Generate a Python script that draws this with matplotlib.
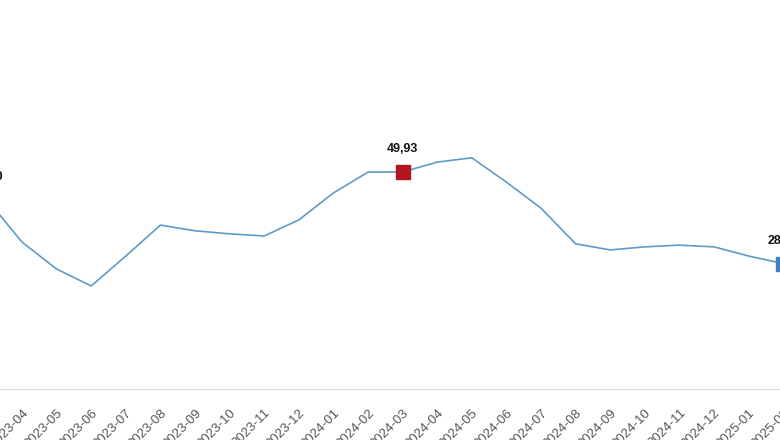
import matplotlib
matplotlib.use("Agg")
import matplotlib.pyplot as plt

plt.rcParams['font.family'] = ['Liberation Sans', 'DejaVu Sans']

months = ["2023-03", "2023-04", "2023-05", "2023-06", "2023-07", "2023-08",
          "2023-09", "2023-10", "2023-11", "2023-12", "2024-01", "2024-02",
          "2024-03", "2024-04", "2024-05", "2024-06", "2024-07", "2024-08",
          "2024-09", "2024-10", "2024-11", "2024-12", "2025-01", "2025-02"]
values = [43.50, 33.8, 27.6, 23.7, 30.6, 37.7, 36.4, 35.7, 35.2, 38.9, 45.1, 49.9,
          49.93, 52.2, 53.2, 47.6, 41.6, 33.4, 32.0, 32.7, 33.1, 32.7, 30.6, 28.85]
highlight_idx = [0, 12, 23]
highlight_labels = ["43,50", "49,93", "28,85"]
highlight_colors = ["#3d7fbf", "#b0161f", "#3d7fbf"]

W, H = 780, 440
fig = plt.figure(figsize=(W / 100, H / 100), dpi=100)
# axes slightly wider than the figure: the chart is a cropped view
left_px, right_px = -30, 810
ax = fig.add_axes([left_px / W, 51 / H, (right_px - left_px) / W, 389 / H])
x = list(range(len(months)))
ax.plot(x, values, color="#5f9bc9", linewidth=1.2, zorder=2)
for i, lab, c in zip(highlight_idx, highlight_labels, highlight_colors):
    ax.plot(x[i], values[i], marker="s", markersize=10, color=c, zorder=3,
            linestyle="none")
    ax.annotate(lab, (x[i], values[i]), xytext=(0, 12), textcoords="offset points",
                ha="center", va="bottom", fontsize=9, fontweight="bold",
                color="#111111", annotation_clip=False)

ax.set_xticks(x)
ax.set_xticklabels(months, rotation=45, ha="right", va="top",
                   rotation_mode="anchor", fontsize=9.5, color="#555555")
step = 34.6
x0_px = -12.6
ax.set_xlim((left_px - x0_px) / step, (right_px - x0_px) / step)
ax.set_ylim(0, 89.5)
ax.tick_params(axis="x", length=0, pad=13)
ax.set_yticks([])
for s in ["top", "right", "left"]:
    ax.spines[s].set_visible(False)
ax.spines["bottom"].set_color("#dddddd")
ax.spines["bottom"].set_linewidth(1)

fig.savefig("out.png", dpi=100)
